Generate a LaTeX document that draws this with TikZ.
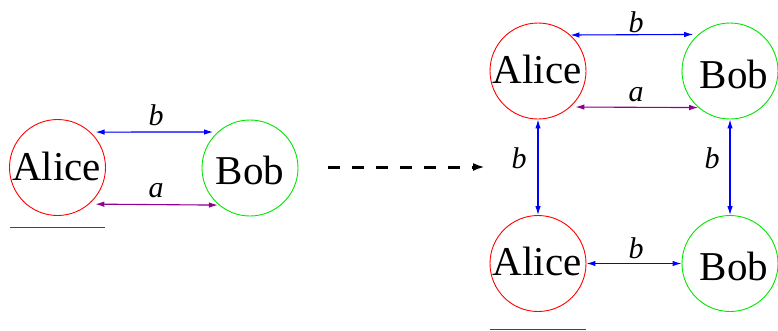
\documentclass[tikz,border=0pt]{standalone}
\usepackage{fontspec}
\setmainfont{Liberation Serif}
\newfontfamily\serifface{Liberation Serif}
\usetikzlibrary{arrows.meta}
\definecolor{xred}{RGB}{255,0,0}
\definecolor{xgreen}{RGB}{0,230,0}
\definecolor{xblue}{RGB}{0,0,255}
\definecolor{xpurple}{RGB}{144,0,144}
\definecolor{xgray}{RGB}{70,70,70}
\begin{document}
\begin{tikzpicture}[x=1pt,y=-1pt,
  party/.style={circle,minimum size=96pt,inner sep=0pt,line width=0.9pt},
  alice/.style={party,draw=xred},
  bob/.style={party,draw=xgreen},
  ptext/.style={anchor=base,inner sep=0pt,font=\serifface\fontsize{41}{41}\selectfont},
  lbl/.style={inner sep=0pt,font=\serifface\fontsize{30}{30}\selectfont\itshape},
  link/.style={line width=1.1pt,{Latex[length=9pt,width=5.5pt]}-{Latex[length=9pt,width=5.5pt]}},
  blink/.style={link,draw=xblue,fill=xblue},
  alink/.style={link,draw=xpurple,fill=xpurple},
  under/.style={draw=xgray,line width=0.9pt}]
\useasboundingbox (0,0) rectangle (778,330);

% two-party picture on the left
\node[alice] (A1) at (57.5,167.5) {};
\node[bob]   (B1) at (250,168) {};
\node[ptext] (tA1) at (56.5,180) {Alice};
\node[ptext] (tB1) at (250,184) {Bob};
\draw[blink,shorten <=5pt,shorten >=4.5pt] (A1.47.7) -- (B1.132.3);
\draw[alink,shorten <=6pt,shorten >=1pt] (A1.-49.5) -- (B1.-130.5);
\node[lbl] (lb1) at (156,115) {b};
\node[lbl] (la1) at (156,190.5) {a};
\coordinate (u1s) at (10,227);
\coordinate (u1e) at (105,227);
\draw[under] (u1s) -- (u1e);

% dashed transition arrow
\coordinate (ds) at (328,167);
\coordinate (de) at (485,167);
\draw[line width=3pt,dash pattern=on 12pt off 12pt,-{Latex[length=12pt,width=8pt]}] (ds) -- (de);

% four-party picture on the right
\node[alice] (A2) at (538,71) {};
\node[bob]   (B2) at (730,71) {};
\node[alice] (A3) at (538,263.5) {};
\node[bob]   (B3) at (730,263.5) {};
\node[ptext] (tA2) at (537,83) {Alice};
\node[ptext] (tB2) at (734,88) {Bob};
\node[ptext] (tA3) at (537,275) {Alice};
\node[ptext] (tB3) at (734,280) {Bob};

\draw[blink,shorten >=5pt] (A2.48.6) -- (B2.131.4);
\draw[alink,shorten <=5pt] (A2.-48.6) -- (B2.-131.4);
\draw[blink] (A2.south) -- (A3.north);
\draw[blink] (B2.south) -- (B3.north);
\draw[blink] (A3.east) -- (B3.west);
\node[lbl] (lb2) at (636,22.5) {b};
\node[lbl] (la2) at (636,95) {a};
\node[lbl] (lb3) at (519,158) {b};
\node[lbl] (lb4) at (712,158) {b};
\node[lbl] (lb5) at (636,248) {b};
\coordinate (u2s) at (490,329);
\coordinate (u2e) at (586,329);
\draw[under] (u2s) -- (u2e);
\end{tikzpicture}
\end{document}
